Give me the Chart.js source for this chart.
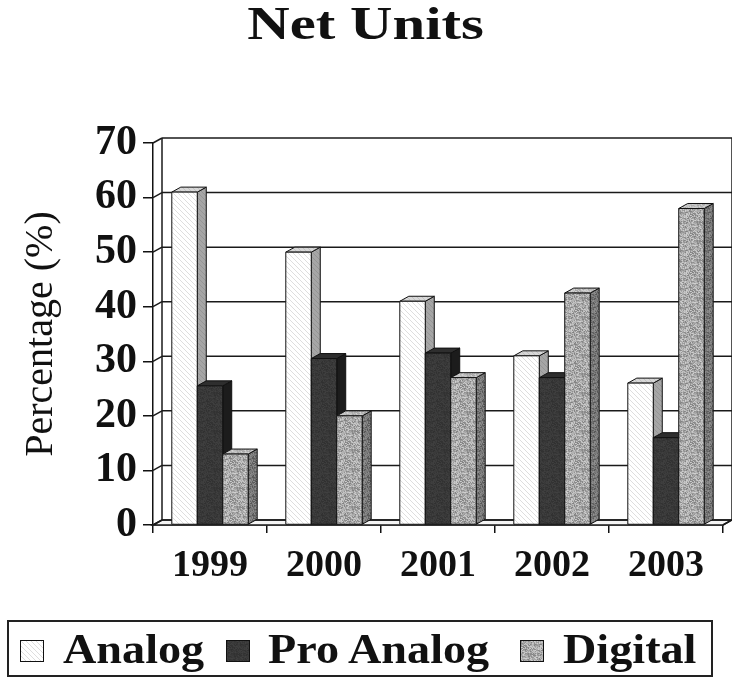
<!DOCTYPE html>
<html>
<head>
<meta charset="utf-8">
<script src="https://cdn.jsdelivr.net/npm/chart.js@4.4.1/dist/chart.umd.min.js"></script>
<style>
  html, body { margin:0; padding:0; background:#fff; }
  #wrap { position:relative; width:732px; height:681px; overflow:hidden; }
  #chart { position:absolute; left:0; top:0; }
  #title { position:absolute; left:0; top:0; width:732px; text-align:center; font:bold 47px/47px "Liberation Serif", serif; color:#111; }
  #title span { display:inline-block; transform:scaleX(1.25); }
  #legend { position:absolute; left:7px; top:620px; width:702px; height:53px; border:2px solid #222; }
  .mark { position:absolute; top:640px; width:24px; height:22px; border:1px solid #111; box-sizing:border-box; }
  .lab { position:absolute; top:628px; font:bold 42px/42px "Liberation Serif", serif; color:#111; white-space:nowrap; transform:scaleX(1.1); transform-origin:left center; }
</style>
</head>
<body>
<div id="wrap">
  <canvas id="chart" width="732" height="681"></canvas>
  <div id="title"><span>Net Units</span></div>
  <div id="legend"></div>
  <div class="mark" id="m0" style="left:20px"></div><div class="lab" style="left:63px">Analog</div>
  <div class="mark" id="m1" style="left:226px"></div><div class="lab" style="left:268px">Pro Analog</div>
  <div class="mark" id="m2" style="left:520px"></div><div class="lab" style="left:563px">Digital</div>
</div>
<script>
const years = ['1999', '2000', '2001', '2002', '2003'];
const seriesNames = ['Analog', 'Pro Analog', 'Digital'];
const analog = [61, 50, 41, 31, 26];
const proAnalog = [25.5, 30.5, 31.5, 27, 16];
const digital = [13, 20, 27, 42.5, 58];
const yTicks = [0, 10, 20, 30, 40, 50, 60, 70];

const DX = 9, DY = 5;

// textures
function hatchTile(bg, fg) {
  const c = document.createElement('canvas');
  c.width = 5; c.height = 5;
  const g = c.getContext('2d');
  g.fillStyle = bg; g.fillRect(0, 0, 5, 5);
  g.strokeStyle = fg; g.lineWidth = 0.8;
  g.beginPath();
  g.moveTo(-1, -1); g.lineTo(6, 6);
  g.moveTo(-4, 1); g.lineTo(4, 9);
  g.moveTo(1, -4); g.lineTo(9, 4);
  g.stroke();
  return c;
}
// grainy fill, fixed (hash based) so it looks like the print texture
function stippleTile(base, spread) {
  const c = document.createElement('canvas');
  c.width = 23; c.height = 19;
  const g = c.getContext('2d');
  for (let i = 0; i < 23; i++) {
    for (let j = 0; j < 19; j++) {
      const h = Math.sin(i * 12.9898 + j * 78.233) * 43758.5453;
      const f = h - Math.floor(h);
      const v = Math.round(base + (f - 0.5) * 2 * spread);
      g.fillStyle = `rgb(${v},${v},${v})`;
      g.fillRect(i, j, 1, 1);
    }
  }
  return c;
}
const canvas = document.getElementById('chart');
const ctx0 = canvas.getContext('2d');
const tiles = {
  aFront: hatchTile('#ffffff', '#d6d6d6'),
  aTop: hatchTile('#d8d8d8', '#bdbdbd'),
  aSide: hatchTile('#a6a6a6', '#909090'),
  pFront: stippleTile(56, 8),
  dFront: stippleTile(168, 40),
  dTop: stippleTile(190, 25),
  dSide: stippleTile(115, 30)
};
const pat = t => ctx0.createPattern(t, 'repeat');
const styles = [
  { front: pat(tiles.aFront), top: pat(tiles.aTop), side: pat(tiles.aSide) },
  { front: pat(tiles.pFront), top: '#2e2e2e', side: '#1c1c1c' },
  { front: pat(tiles.dFront), top: pat(tiles.dTop), side: pat(tiles.dSide) }
];

// legend markers
document.getElementById('m0').style.backgroundImage = `url(${tiles.aFront.toDataURL()})`;
document.getElementById('m1').style.backgroundImage = `url(${tiles.pFront.toDataURL()})`;
document.getElementById('m2').style.backgroundImage = `url(${tiles.dFront.toDataURL()})`;

function line(ctx, x1, y1, x2, y2) {
  ctx.beginPath(); ctx.moveTo(x1, y1); ctx.lineTo(x2, y2); ctx.stroke();
}
function poly(ctx, pts, fill) {
  ctx.beginPath();
  ctx.moveTo(pts[0][0], pts[0][1]);
  for (let i = 1; i < pts.length; i++) ctx.lineTo(pts[i][0], pts[i][1]);
  ctx.closePath();
  ctx.fillStyle = fill; ctx.fill(); ctx.stroke();
}

const threeD = {
  id: 'threeD',
  beforeDatasetsDraw(chart) {
    const { ctx, chartArea: a, scales: { y } } = chart;
    ctx.save();
    ctx.strokeStyle = '#1a1a1a';
    ctx.lineWidth = 1.5;
    // floor
    poly(ctx, [[a.left, a.bottom], [a.left + DX, a.bottom - DY], [a.right + DX, a.bottom - DY], [a.right, a.bottom]], '#f4f4f4');
    // back wall + left wall
    yTicks.forEach(v => {
      const py = y.getPixelForValue(v);
      line(ctx, a.left, py, a.left + DX, py - DY);
      line(ctx, a.left + DX, py - DY, a.right + DX, py - DY);
    });
    line(ctx, a.left + DX, a.top - DY, a.left + DX, a.bottom - DY);
    line(ctx, a.right + DX, a.top - DY, a.right + DX, a.bottom - DY);
    line(ctx, a.right, a.bottom, a.right + DX, a.bottom - DY);
    // bars, category by category so nearer faces overlap correctly
    ctx.lineWidth = 1;
    ctx.strokeStyle = '#111';
    const n = chart.data.labels.length;
    for (let i = 0; i < n; i++) {
      chart.data.datasets.forEach((ds, d) => {
        const el = chart.getDatasetMeta(d).data[i];
        const { x, y: top, base, width } = el.getProps(['x', 'y', 'base', 'width'], true);
        const x0 = x - width / 2, x1 = x + width / 2;
        const s = styles[d];
        poly(ctx, [[x1, top], [x1 + DX, top - DY], [x1 + DX, base - DY], [x1, base]], s.side);
        poly(ctx, [[x0, top], [x0 + DX, top - DY], [x1 + DX, top - DY], [x1, top]], s.top);
        poly(ctx, [[x0, top], [x1, top], [x1, base], [x0, base]], s.front);
      });
    }
    ctx.restore();
    return false;
  }
};

new Chart(canvas, {
  type: 'bar',
  data: {
    labels: years,
    datasets: [
      { label: seriesNames[0], data: analog, backgroundColor: '#fff' },
      { label: seriesNames[1], data: proAnalog, backgroundColor: '#333' },
      { label: seriesNames[2], data: digital, backgroundColor: '#aaa' }
    ]
  },
  options: {
    responsive: false,
    animation: false,
    events: [],
    datasets: { bar: { categoryPercentage: 0.67, barPercentage: 1.0 } },
    layout: { padding: { top: 143, right: 9, left: 0, bottom: 0 } },
    plugins: { legend: { display: false }, title: { display: false }, tooltip: { enabled: false } },
    scales: {
      x: {
        offset: true,
        grid: { offset: true, drawOnChartArea: false, tickLength: 8, color: '#111', lineWidth: 1.5 },
        border: { color: '#111', width: 1.5 },
        ticks: { color: '#111', padding: 10, font: { family: 'Liberation Serif', size: 38, weight: 'bold' } },
        afterFit: s => { s.height = 156; }
      },
      y: {
        min: 0, max: 70,
        afterBuildTicks: s => { s.ticks = yTicks.map(v => ({ value: v })); },
        grid: { drawOnChartArea: false, tickLength: 10, color: '#111', lineWidth: 1.5 },
        border: { color: '#111', width: 1.5 },
        ticks: { color: '#111', padding: 6, font: { family: 'Liberation Serif', size: 42, weight: 'bold' } },
        title: { display: true, text: 'Percentage (%)', color: '#111', padding: { top: 21, bottom: 0 }, font: { family: 'Liberation Serif', size: 40, lineHeight: 1 } },
        afterFit: s => { s.width = 153; }
      }
    }
  },
  plugins: [threeD]
});
</script>
</body>
</html>
